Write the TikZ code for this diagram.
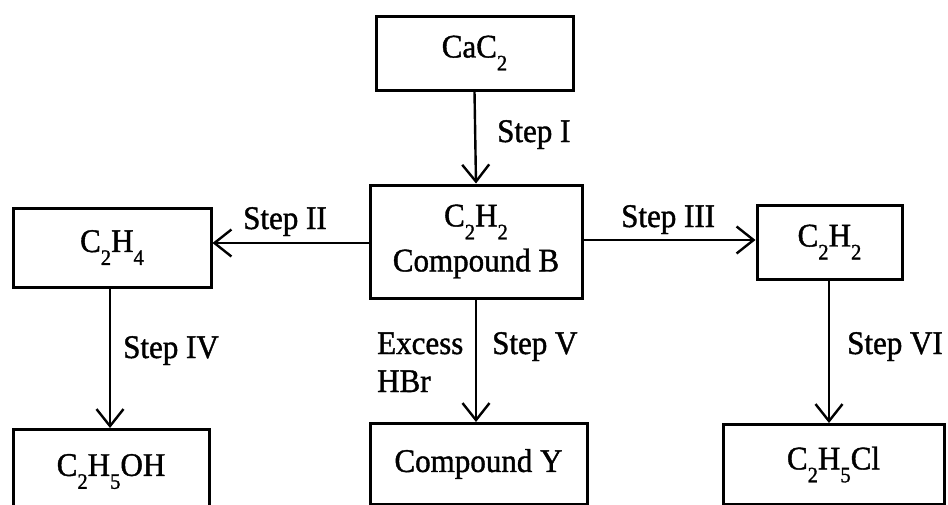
\documentclass[tikz,border=0pt]{standalone}
\usepackage{fontspec}
\setmainfont[FakeStretch=0.94,FakeBold=1.2]{Liberation Serif}
\usetikzlibrary{arrows.meta}
\newcommand\chsub[1]{\raisebox{-0.85ex}{\fontsize{22}{22}\selectfont #1}}
\begin{document}
\begin{tikzpicture}[x=1pt,y=-1pt,
  every node/.style={font=\fontsize{33}{38}\selectfont, inner sep=0pt},
  chembox/.style={draw, line width=3pt, align=center},
  lbl/.style={anchor=base west},
  conn/.style={line width=2.4pt, -{Straight Barb[length=17pt,width=27pt,line width=2.4pt]}}]
\useasboundingbox (0,0) rectangle (948,504);
\clip (0,0) rectangle (948,504);
% boxes
\node[chembox, minimum width=197, minimum height=74] (A) at (474.5,53) {CaC\chsub{2}};
\node[chembox, minimum width=212, minimum height=113] (B) at (476,241.5) {C\chsub{2}H\chsub{2}\\[7pt]Compound B};
\node[chembox, minimum width=198, minimum height=79] (L) at (112,247.5) {C\chsub{2}H\chsub{4}};
\node[chembox, minimum width=145, minimum height=74] (R) at (829.5,242) {C\chsub{2}H\chsub{2}};
\node[chembox, anchor=north, minimum width=196, minimum height=84] (LB) at (111,428) {C\chsub{2}H\chsub{5}OH};
\node[chembox, anchor=north, minimum width=217, minimum height=81] (Y) at (478.5,422) {Compound Y};
\node[chembox, anchor=north, minimum width=221, minimum height=80] (RB) at (833.5,423) {C\chsub{2}H\chsub{5}Cl};
% connectors
\draw[conn] (A.south) -- (B.north);
\draw[conn] (B.west |- 0,243) -- (L.east |- 0,243);
\draw[conn] (B.east |- 0,240) -- (R.west |- 0,240);
\draw[conn] (L.south -| 110,0) -- (LB.north -| 110,0);
\draw[conn] (B.south) -- (Y.north -| B.south);
\draw[conn] (R.south -| 829,0) -- (RB.north -| 829,0);
% labels
\node[lbl] (s1) at (497,142) {Step I};
\node[lbl] (s2) at (243,229) {Step II};
\node[lbl] (s3) at (621,227) {Step III};
\node[lbl] (s4) at (123,358) {Step IV};
\node[lbl] (ex) at (377,354) {Excess};
\node[lbl] (hb) at (377,392) {HBr};
\node[lbl] (s5) at (492,354) {Step V};
\node[lbl] (s6) at (847,354) {Step VI};
\end{tikzpicture}
\end{document}
